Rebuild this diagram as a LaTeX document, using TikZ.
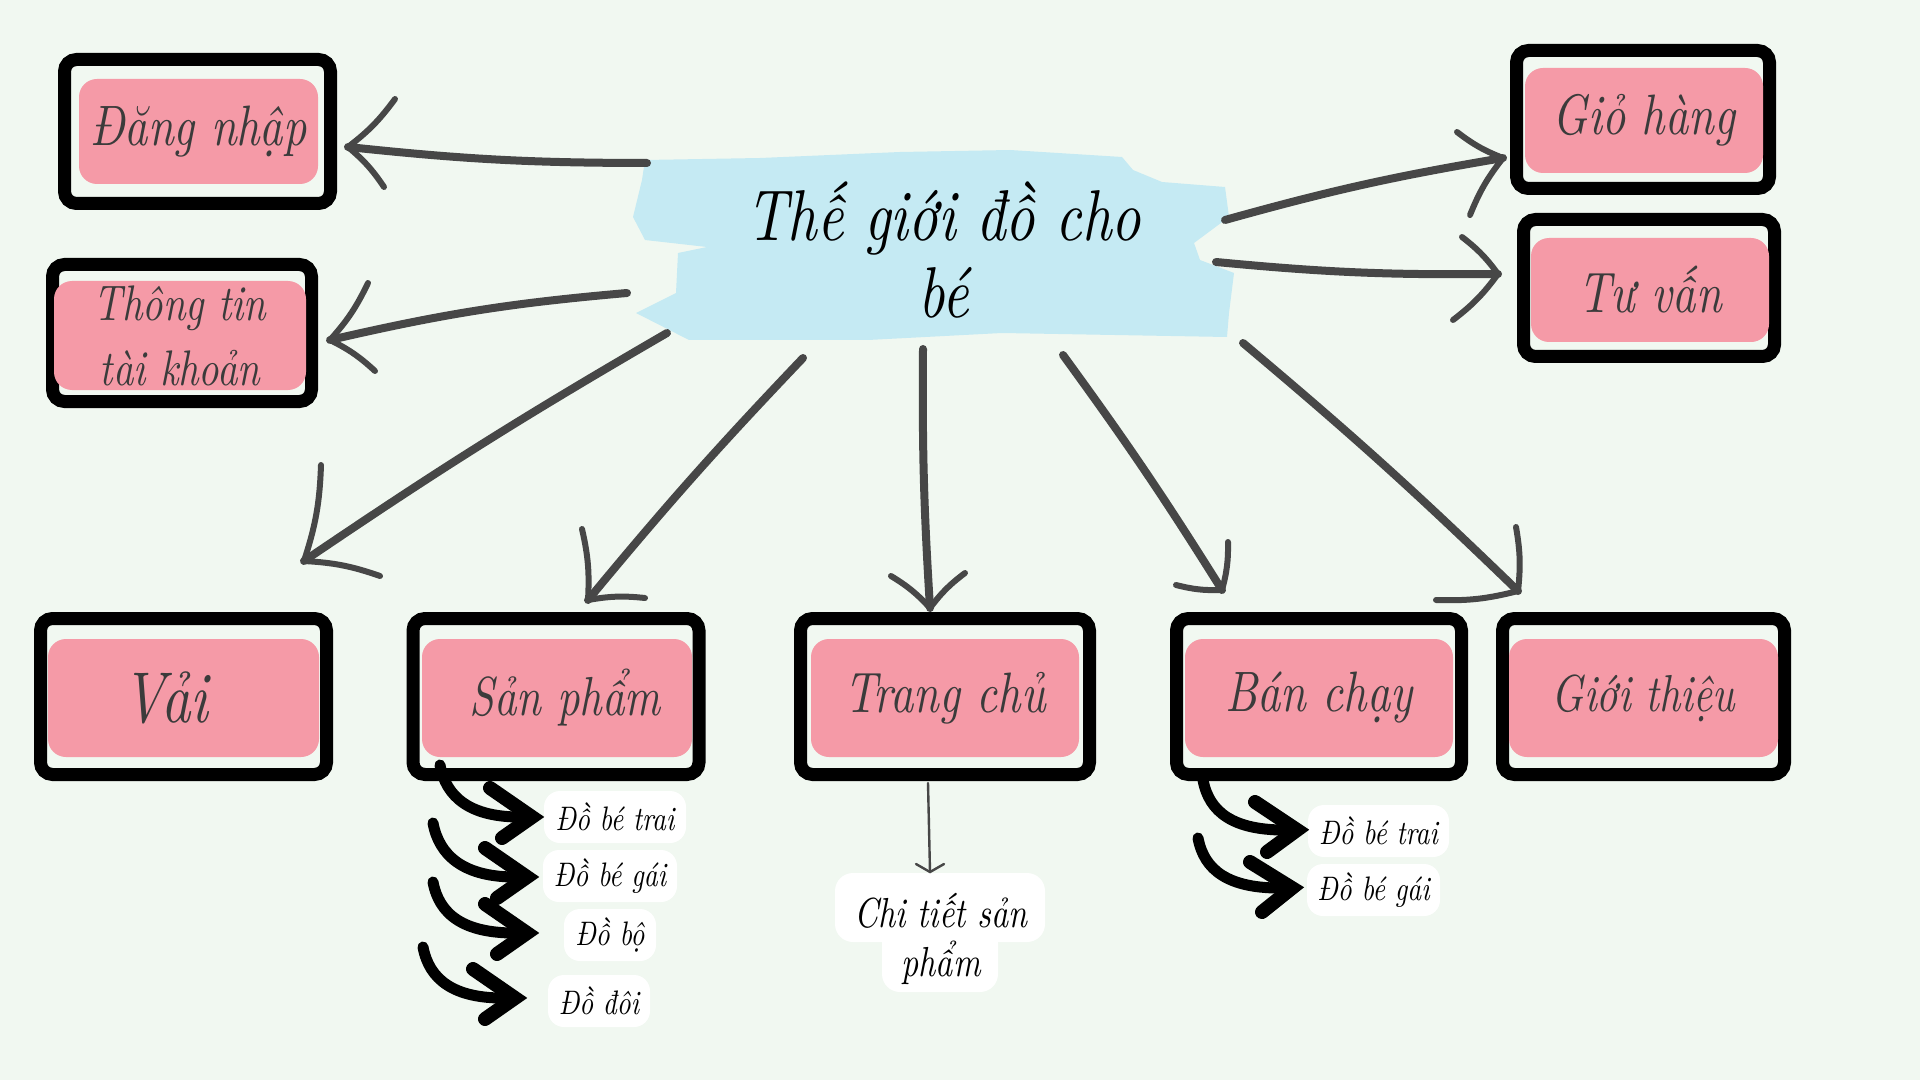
\documentclass[tikz,border=0pt]{standalone}
\usepackage{fontspec}
\newfontfamily\scr{lmroman10-italic}[Extension=.otf, FakeStretch=0.8]
\usetikzlibrary{calc}
\definecolor{bgc}{HTML}{F1F8F1}
\definecolor{pinkc}{HTML}{F59AA7}
\definecolor{bluec}{HTML}{C5EAF3}
\definecolor{arrg}{HTML}{474747}
\definecolor{txtg}{HTML}{3B3B3B}
\begin{document}
\begin{tikzpicture}[x=0.5pt,y=-0.5pt,
  frame/.style={draw=black, line width=6.5pt, rounded corners=6pt, inner sep=0pt},
  pinkbox/.style={fill=pinkc, rounded corners=9pt, inner sep=0pt, text=txtg, align=center,
    font=\scr\fontsize{28.5}{32}\selectfont},
  gshaft/.style={draw=arrg, line width=4pt, line cap=round},
  gbarb/.style={draw=arrg, line width=3pt, line cap=round, line join=round},
  bshaft/.style={draw=black, line width=5.5pt, line cap=round},
  bhead/.style={draw=black, line width=7pt, line cap=round, line join=miter},
  lbl/.style={fill=white, rounded corners=8pt, inner sep=0pt, minimum height=26pt,
    font=\scr\fontsize{17}{20}\selectfont},
  thinarr/.style={draw=arrg, line width=1.2pt, line cap=round}]
\useasboundingbox (0,0) rectangle (1920,1080);
\fill[bgc] (0,0) rectangle (1920,1080);

% brush behind title
\fill[bluec] (645,160) -- (760,158) -- (900,152) -- (1010,150) -- (1122,157) -- (1133,170)
  -- (1162,182) -- (1225,187) -- (1229,217) -- (1194,243) -- (1200,260) -- (1234,273)
  -- (1229,313) -- (1227,337) -- (1002,333) -- (868,340) -- (689,340) -- (636,313)
  -- (676,293) -- (678,253) -- (707,247) -- (645,240) -- (633,217) -- (642,180) -- cycle;
\node[font=\scr\fontsize{36}{38.5}\selectfont, align=center, text=black] (title) at (944,250) {Thế giới đồ cho\\bé};

% boxes
\node[frame, minimum width=133pt, minimum height=72pt] (dangF) at (197.5,131.5) {};
\node[pinkbox, minimum width=119.5pt, minimum height=52.5pt] (dang) at (198.5,131.5) {Đăng nhập};

\node[frame, minimum width=129.5pt, minimum height=68.5pt] (ttF) at (182,333) {};
\node[pinkbox, minimum width=126pt, minimum height=54.5pt, font=\scr\fontsize{25}{32.5}\selectfont] (tt) at (180,335.5) {Thông tin\\tài khoản};

\node[frame, minimum width=126.5pt, minimum height=69pt] (ghF) at (1643,119.5) {};
\node[pinkbox, minimum width=119pt, minimum height=52.5pt] (gh) at (1644,120.5) {Giỏ hàng};

\node[frame, minimum width=125.5pt, minimum height=68.5pt] (tvF) at (1649,288) {};
\node[pinkbox, minimum width=119pt, minimum height=52pt] (tv) at (1650,290) {Tư vấn};

\node[frame, minimum width=143pt, minimum height=78pt] (vaiF) at (183.5,696.5) {};
\node[pinkbox, minimum width=135.5pt, minimum height=59pt, font=\scr\fontsize{36}{40}\selectfont] (vai) at (183.5,698) {Vải\hspace*{18pt}};

\node[frame, minimum width=143pt, minimum height=78pt] (spF) at (556,696.5) {};
\node[pinkbox, minimum width=135pt, minimum height=59pt, font=\scr\fontsize{27.5}{31}\selectfont] (sp) at (557,698) {\hspace*{8pt}Sản phẩm};

\node[frame, minimum width=144.5pt, minimum height=78pt] (tcF) at (945,696.5) {};
\node[pinkbox, minimum width=134pt, minimum height=59pt] (tc) at (945,698) {Trang chủ};

\node[frame, minimum width=142.5pt, minimum height=78pt] (bcF) at (1319,696.5) {};
\node[pinkbox, minimum width=134pt, minimum height=59pt] (bc) at (1319,698) {Bán chạy};

\node[frame, minimum width=141pt, minimum height=78pt] (gtF) at (1643.5,696.5) {};
\node[pinkbox, minimum width=134.5pt, minimum height=59pt, font=\scr\fontsize{26}{30}\selectfont] (gt) at (1643.5,698) {Giới thiệu};

% gray brush arrows from title
\coordinate (s1) at (647,163); \coordinate (t1) at (348,147);
\draw[gshaft] (s1) to[bend left=3] (t1);
\draw[gbarb] (395,99) to[bend left=8] (t1) to[bend left=8] (384,187);

\coordinate (s2) at (627,293); \coordinate (t2) at (330,340);
\draw[gshaft] (s2) to[bend right=4] (t2);
\draw[gbarb] (368,283) to[bend left=8] (t2) to[bend left=8] (375,371);

\coordinate (s3) at (667,333); \coordinate (t3) at (304,561);
\draw[gshaft] (s3) to[bend right=2] (t3);
\draw[gbarb] (321,465) to[bend left=8] (t3) to[bend left=8] (380,576);

\coordinate (s4) at (803,358); \coordinate (t4) at (588,600);
\draw[gshaft] (s4) to[bend right=2] (t4);
\draw[gbarb] (582,529) to[bend left=8] (t4) to[bend left=8] (645,598);

\coordinate (s5) at (923,349); \coordinate (t5) at (930,608);
\draw[gshaft] (s5) to[bend right=2] (t5);
\draw[gbarb] (891,576) to[bend left=8] (t5) to[bend left=8] (965,573);

\coordinate (s6) at (1063,355); \coordinate (t6) at (1222,590);
\draw[gshaft] (s6) to[bend left=2] (t6);
\draw[gbarb] (1176,585) to[bend right=8] (t6) to[bend right=8] (1228,542);

\coordinate (s7) at (1243,343); \coordinate (t7) at (1518,591);
\draw[gshaft] (s7) to[bend left=2] (t7);
\draw[gbarb] (1436,600) to[bend right=8] (t7) to[bend right=8] (1516,527);

\coordinate (s8) at (1225,220); \coordinate (t8) at (1503,158);
\draw[gshaft] (s8) to[bend left=3] (t8);
\draw[gbarb] (1457,132) to[bend right=8] (t8) to[bend right=8] (1470,215);

\coordinate (s9) at (1216,262); \coordinate (t9) at (1498,274);
\draw[gshaft] (s9) to[bend right=3] (t9);
\draw[gbarb] (1462,237) to[bend left=8] (t9) to[bend left=8] (1453,320);

% sub labels of San pham
\node[lbl, minimum width=71pt] (l1) at (615,817) {Đồ bé trai};
\node[lbl, minimum width=67pt] (l2) at (610,876) {Đồ bé gái};
\node[lbl, minimum width=46pt] (l3) at (610,935) {Đồ bộ};
\node[lbl, minimum width=51pt] (l4) at (599,1001) {Đồ đôi};

\coordinate (p1s) at (440,765); \coordinate (p1t) at (532,817);
\draw[bshaft] (p1s) .. controls (446,797) and (470,818) .. ($(p1t)+(-8,0)$);
\draw[bhead] ($(p1t)+(-42,-29)$) -- (p1t) -- ($(p1t)+(-30,21)$);
\coordinate (p2s) at (433,823); \coordinate (p2t) at (527,877);
\draw[bshaft] (p2s) .. controls (439,855) and (463,878) .. ($(p2t)+(-8,0)$);
\draw[bhead] ($(p2t)+(-42,-29)$) -- (p2t) -- ($(p2t)+(-30,21)$);
\coordinate (p3s) at (433,882); \coordinate (p3t) at (527,933);
\draw[bshaft] (p3s) .. controls (439,914) and (463,934) .. ($(p3t)+(-8,0)$);
\draw[bhead] ($(p3t)+(-42,-29)$) -- (p3t) -- ($(p3t)+(-30,21)$);
\coordinate (p4s) at (423,947); \coordinate (p4t) at (515,998);
\draw[bshaft] (p4s) .. controls (429,979) and (453,999) .. ($(p4t)+(-8,0)$);
\draw[bhead] ($(p4t)+(-42,-29)$) -- (p4t) -- ($(p4t)+(-30,21)$);

% sub labels of Ban chay
\node[lbl, minimum width=70.5pt] (l5) at (1378.5,831) {Đồ bé trai};
\node[lbl, minimum width=66.5pt] (l6) at (1373.5,890) {Đồ bé gái};
\coordinate (q1s) at (1203,780); \coordinate (q1t) at (1297,830);
\draw[bshaft] (q1s) .. controls (1209,812) and (1233,831) .. ($(q1t)+(-8,0)$);
\draw[bhead] ($(q1t)+(-42,-28)$) -- (q1t) -- ($(q1t)+(-30,22)$);
\coordinate (q2s) at (1198,838); \coordinate (q2t) at (1292,888);
\draw[bshaft] (q2s) .. controls (1204,870) and (1228,889) .. ($(q2t)+(-8,0)$);
\draw[bhead] ($(q2t)+(-42,-26)$) -- (q2t) -- ($(q2t)+(-30,24)$);

% Chi tiet san pham
\fill[white, rounded corners=9pt] (835,873) rectangle (1045,942);
\fill[white, rounded corners=9pt] (882,925) rectangle (998,992);
\node[font=\scr\fontsize{21}{24.5}\selectfont, align=center, text=black] (ct) at (941,939) {Chi tiết sản\\phẩm};
\coordinate (cs) at (928,783); \coordinate (cte) at (930,872);
\draw[thinarr] (cs) -- (cte);
\draw[thinarr] (916,864) -- (cte) -- (944,864);
\end{tikzpicture}
\end{document}
